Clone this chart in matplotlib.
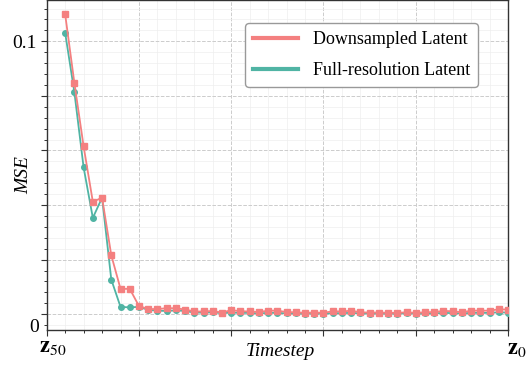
import numpy as np
import matplotlib
matplotlib.use("Agg")
import matplotlib.pyplot as plt
from matplotlib.ticker import MultipleLocator

plt.rcParams['font.family'] = ['Liberation Serif', 'DejaVu Serif']
plt.rcParams['mathtext.fontset'] = 'stix'

# timestep index (z_50 on the left ... z_0 on the right)
steps = np.arange(2, 51)

mse_down = [0.1099, 0.0847, 0.0615, 0.0412, 0.0427, 0.0216, 0.0093, 0.0093, 0.0030, 0.0019,
            0.0019, 0.0022, 0.0022, 0.0017, 0.0010, 0.0010, 0.0012, 0.0006, 0.0015, 0.0011,
            0.0010, 0.0008, 0.0013, 0.0013, 0.0008, 0.0007, 0.0005, 0.0006, 0.0005, 0.0011,
            0.0010, 0.0013, 0.0007, 0.0006, 0.0006, 0.0005, 0.0005, 0.0007, 0.0005, 0.0007,
            0.0008, 0.0012, 0.0011, 0.0007, 0.0013, 0.0013, 0.0013, 0.0018, 0.0017]

mse_full = [0.1031, 0.0813, 0.0538, 0.0353, 0.0427, 0.0127, 0.0027, 0.0025, 0.0027, 0.0016,
            0.0013, 0.0012, 0.0014, 0.0012, 0.0006, 0.0006, 0.0007, 0.0004, 0.0006, 0.0005,
            0.0005, 0.0003, 0.0005, 0.0005, 0.0003, 0.0003, 0.0002, 0.0002, 0.0002, 0.0004,
            0.0004, 0.0005, 0.0003, 0.0002, 0.0003, 0.0002, 0.0002, 0.0003, 0.0002, 0.0003,
            0.0003, 0.0005, 0.0004, 0.0003, 0.0005, 0.0005, 0.0005, 0.0007, 0.0006]

c_down = '#F48080'
c_full = '#50B4A4'

fig = plt.figure(figsize=(5.26, 3.66), dpi=100)
ax = fig.add_axes([0.0888, 0.0997, 0.877, 0.9]) 

ax.plot(steps, mse_full, color=c_full, lw=1.3, marker='o', ms=4, zorder=3)
ax.plot(steps, mse_down, color=c_down, lw=1.3, marker='s', ms=4, zorder=4)

ax.set_xlim(0, 50)
ax.set_ylim(-0.0056, 0.1151)

ax.xaxis.set_major_locator(MultipleLocator(10))
ax.xaxis.set_minor_locator(MultipleLocator(2))
ax.set_xticklabels([])

ax.set_yticks(np.arange(0, 0.101, 0.02))
ax.set_yticklabels(['', '', '', '', '', '0.1'])
ymin = np.arange(-0.004, 0.1151, 0.004)
ax.set_yticks(ymin, minor=True)
ax.set_yticklabels(['0'] + [''] * (len(ymin) - 1), minor=True)
ax.tick_params(axis='y', which='both', labelsize=14)
ax.tick_params(which='major', length=4, width=0.8, color='#333333')
ax.tick_params(which='minor', length=2.5, width=0.7, color='#333333')

ax.grid(which='major', ls='--', color='#cccccc', lw=0.7)
ax.grid(which='minor', ls='-', color='#eeeeee', lw=0.5)
ax.set_axisbelow(True)
for s in ax.spines.values():
    s.set_color('#333333')
    s.set_linewidth(1.0)

ax.set_ylabel('MSE', fontsize=14, style='italic')
ax.yaxis.set_label_coords(-0.032, 0.47)
fig.text(0.533, 0.039, 'Timestep', fontsize=14, style='italic', ha='center', va='center')
fig.text(0.1, 0.05, r'$\mathbf{z}_{50}$', fontsize=16, ha='center', va='center')
fig.text(0.982, 0.044, r'$\mathbf{z}_{0}$', fontsize=16, ha='center', va='center')

h1 = plt.Line2D([], [], color=c_down, lw=3)
h2 = plt.Line2D([], [], color=c_full, lw=3)
leg = ax.legend([h1, h2], ['Downsampled Latent', 'Full-resolution Latent'],
                loc='upper right', bbox_to_anchor=(0.935, 0.93), borderaxespad=0,
                fontsize=13, handlelength=2.5, labelspacing=0.75, borderpad=0.45,
                fancybox=True, framealpha=1, edgecolor='#999999')
leg.get_frame().set_linewidth(1.0)

fig.savefig('out.png', dpi=100)
